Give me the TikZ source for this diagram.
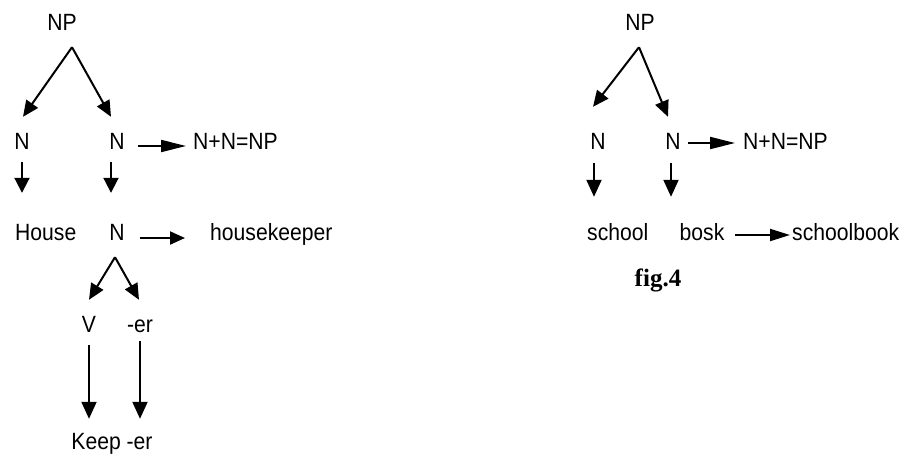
\documentclass[tikz,border=0pt]{standalone}
\usepackage{fontspec}
\setmainfont{Liberation Sans}[FakeStretch=0.9]
\newfontfamily\capfont{Liberation Serif}
\usetikzlibrary{arrows.meta,calc}
\begin{document}
\begin{tikzpicture}[x=1pt,y=-1pt,
  lbl/.style={inner sep=0pt,anchor=base,text height=15.5pt,text depth=4.5pt,
    font=\fontsize{23.5}{27}\selectfont},
  lblw/.style={lbl,anchor=base west},
  conn/.style={line width=2pt},
  diag/.style={conn,-{Triangle[length=16pt,width=14pt]}},
  down/.style={conn,-{Triangle[length=15pt,width=15pt]}},
  ldown/.style={conn,-{Triangle[length=17pt,width=15pt]}},
  wide/.style={conn,-{Triangle[length=25pt,width=12pt]}},
  mid/.style={conn,-{Triangle[length=15pt,width=13pt]}},
  mwide/.style={conn,-{Triangle[length=20pt,width=12pt]}}]
\useasboundingbox (0,0) rectangle (906,456);

% ---- left tree: housekeeper ----
\node[lbl]  (np1)   at (62,30)   {NP};
\node[lbl]  (n1)    at (22,149)  {N};
\node[lbl]  (n2)    at (117,149) {N};
\node[lblw] (nn1)   at (193,149) {N+N=NP};
\node[lblw] (house) at (15,240)  {House};
\node[lbl]  (n3)    at (117,240) {N};
\node[lblw] (hk)    at (210,240) {housekeeper};
\node[lbl]  (v)     at (89,332)  {V};
\node[lbl]  (er1)   at (140,332) {-er};
\node[lbl]  (keep)  at (112,449) {Keep -er};

\coordinate (apex1) at ($(np1.south)+(10,12.5)$);
\draw[diag] (apex1) -- ($(n1.north)+(1,-16.5)$);
\draw[diag] (apex1) -- ($(n2.north)+(-6,-16.5)$);
\draw[down] ($(n1.south)+(0,8.5)$) -- ($(house.north -| n1.south)+(0,-31.5)$);
\draw[down] ($(n2.south)+(-6,8.5)$) -- ($(n3.north)+(-6,-31.5)$);
\draw[wide] ($(n2.east)+(13,2.5)$) -- ($(nn1.west)+(-7,2.5)$);
\draw[mid]  ($(n3.east)+(15,3.5)$) -- ($(hk.west)+(-25,3.5)$);
\coordinate (apex2) at ($(n3.south)+(-2,12.5)$);
\draw[diag] (apex2) -- ($(v.north)+(0,-16.5)$);
\draw[diag] (apex2) -- ($(er1.north)+(-1,-16.5)$);
\draw[ldown] ($(v.south)+(0,8.5)$) -- ($(keep.north -| v.south)+(0,-14.5)$);
\draw[ldown] ($(er1.south)+(0,4.5)$) -- ($(keep.north -| er1.south)+(0,-14.5)$);

% ---- right tree: schoolbook ----
\node[lbl]  (np2)    at (640,30)  {NP};
\node[lbl]  (n4)     at (598,149) {N};
\node[lbl]  (n5)     at (673,149) {N};
\node[lblw] (nn2)    at (743,149) {N+N=NP};
\node[lblw] (school) at (587,240) {school};
\node[lbl]  (bosk)   at (702,240) {bosk};
\node[lblw] (sb)     at (792,240) {schoolbook};
\node[inner sep=0pt,anchor=base,font=\capfont\bfseries\fontsize{25}{30}\selectfont]
  (fig) at (658,286) {fig.4};

\coordinate (apex3) at ($(np2.south)+(-1,12.5)$);
\draw[diag] (apex3) -- ($(n4.north)+(-5,-26.5)$);
\draw[diag] (apex3) -- ($(n5.north)+(-5,-16.5)$);
\draw[ldown] ($(n4.south)+(-4,9.5)$) -- ($(school.north -| n4.south)+(-4,-27.5)$);
\draw[ldown] ($(n5.south)+(-2,9.5)$) -- ($(bosk.north -| n5.south)+(-2,-27.5)$);
\draw[wide]  ($(n5.east)+(7,-0.5)$) -- ($(nn2.west)+(-8,-0.5)$);
\draw[mwide] ($(bosk.east)+(10.5,0.5)$) -- ($(sb.west)+(-2,0.5)$);
\end{tikzpicture}
\end{document}
